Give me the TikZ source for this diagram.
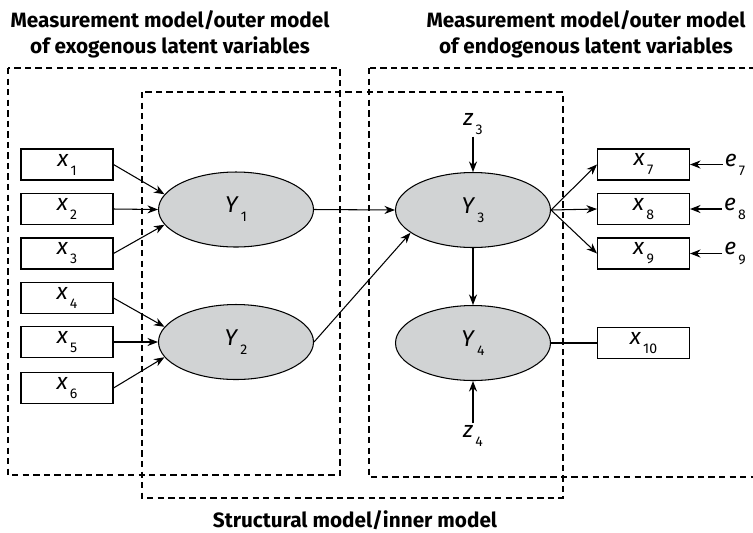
\documentclass[tikz,border=0pt]{standalone}
\usepackage{fontspec}
\setmainfont{Fira Sans}
\usetikzlibrary{shapes.geometric,arrows.meta}
\definecolor{latgray}{RGB}{209,211,212}
\newcommand{\vn}[2]{\textit{#1}\kern1.2pt\raisebox{-0.75ex}{\footnotesize #2}}

\begin{document}
\begin{tikzpicture}[x=0.02cm, y=-0.02cm,
ind/.style={draw, semithick, minimum width=1.84cm, minimum height=0.62cm, inner sep=0pt, font=\fontsize{13}{15}\selectfont},
ell/.style={ellipse, draw, semithick, fill=latgray, minimum width=3.1cm, minimum height=1.5cm, inner sep=0pt, font=\fontsize{13}{15}\selectfont},
lab/.style={inner sep=1pt, font=\fontsize{13}{15}\selectfont},
arr/.style={-{Stealth[length=6pt,width=4.6pt]}, semithick},
grp/.style={draw, semithick, dash pattern=on 3.6pt off 2.4pt},
ttl/.style={align=center, font=\bfseries\fontsize{11.8}{14.8}\selectfont}]
\useasboundingbox (0,0) rectangle (753,532);
% dashed groups
\draw[grp] (8,68) rectangle (340,475);
\draw[grp] (369,68) rectangle (770,477);
\draw[grp] (142,92) rectangle (563,498);
\node[ttl] (tex) at (170,34) {Measurement model/outer model\\of exogenous latent variables};
\node[ttl] (ten) at (586,34) {Measurement model/outer model\\of endogenous latent variables};
\node[ttl] (tin) at (355,520) {Structural model/inner model};
%
\node[ind] (x1) at (67,164.5) {\vn{x}{1}};
\node[ind] (x2) at (67,209)   {\vn{x}{2}};
\node[ind] (x3) at (67,253.5) {\vn{x}{3}};
\node[ind] (x4) at (67,298)   {\vn{x}{4}};
\node[ind] (x5) at (67,342)   {\vn{x}{5}};
\node[ind] (x6) at (67,388)   {\vn{x}{6}};
\node[ell] (y1) at (236,209.5) {\vn{Y}{1}};
\node[ell] (y2) at (236,342)   {\vn{Y}{2}};
\node[ell] (y3) at (473,210)   {\vn{Y}{3}};
\node[ell] (y4) at (473,343)   {\vn{Y}{4}};
\node[ind] (x7)  at (643.5,164.5) {\vn{x}{7}};
\node[ind] (x8)  at (643.5,209)   {\vn{x}{8}};
\node[ind] (x9)  at (643.5,253.5) {\vn{x}{9}};
\node[ind] (x10) at (643.5,343)   {\vn{x}{10}};
\node[lab] (e7) at (735,164.5) {\vn{e}{7}};
\node[lab] (e8) at (735,209)   {\vn{e}{8}};
\node[lab] (e9) at (735,253.5) {\vn{e}{9}};
\node[lab] (z3) at (473,124) {\vn{z}{3}};
\node[lab] (z4) at (473,436) {\vn{z}{4}};
%
\draw[arr] (x1.east) -- (y1.168);
\draw[arr] (x2.east) -- (y1.west);
\draw[arr] (x3.east) -- (y1.192);
\draw[arr] (x4.east) -- (y2.168);
\draw[arr] (x5.east) -- (y2.west);
\draw[arr] (x6.east) -- (y2.192);
\draw[arr] (y1.east) -- (y3.west);
\draw[arr] (y2.east) -- (y3.200);
\draw[arr] (y3.south) -- (y4.north);
\draw[arr] (y3.east) -- (x7.west);
\draw[arr] (y3.east) -- (x8.west);
\draw[arr] (y3.east) -- (x9.west);
\draw[semithick] (y4.east) -- (x10.west);
\draw[arr] (e7) -- (x7);
\draw[arr] (e8) -- (x8);
\draw[arr] (e9) -- (x9);
\draw[arr] (z3) -- (y3);
\draw[arr] (z4) -- (y4);
\end{tikzpicture}
\end{document}
